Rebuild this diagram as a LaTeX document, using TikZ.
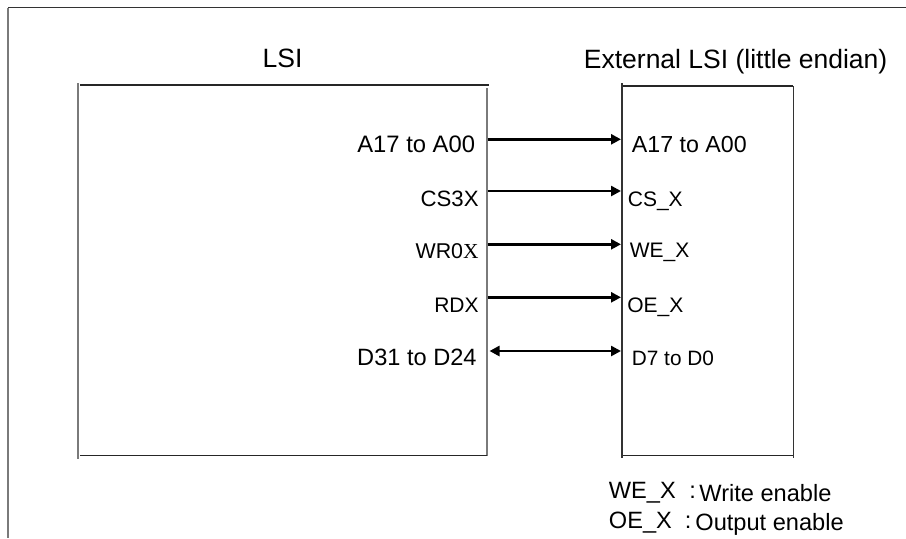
\documentclass[tikz,border=0pt]{standalone}
\usepackage{fontspec}
\setmainfont{Liberation Sans}
\newfontfamily\serifX{Liberation Serif}
\usetikzlibrary{arrows.meta,calc}
\definecolor{vgray}{HTML}{7A7A7A}
\tikzset{
  hline/.style={line width=0.55pt, draw=black!85},
  vline/.style={line width=0.8pt, draw=vgray},
  frametop/.style={line width=0.6pt, draw=black!80},
  sig/.style={line width=1.4pt, -{Triangle[length=5pt,width=5pt]}},
  bisig/.style={line width=1.4pt, {Triangle[length=5pt,width=5pt]}-{Triangle[length=5pt,width=5pt]}},
  boxnode/.style={rectangle, inner sep=0pt, anchor=north west, minimum height=185pt},
  lbl/.style={inner sep=0pt, text=black},
}
\newcommand{\fs}[1]{\fontsize{#1}{#1}\selectfont}
\begin{document}
\begin{tikzpicture}[x=0.5pt,y=-0.5pt]
\useasboundingbox (0,0) rectangle (906,538);
% outer frame
\coordinate (ftl) at (8,7.5);
\coordinate (ftr) at (906,7.5);
\coordinate (fbl) at (8,538);
\draw[frametop] (ftl) -- (ftr);
\draw[vline] (ftl) -- (fbl);
% titles
\node[lbl, anchor=base] (tlsi) at (282.5,67.3) {\fs{13.25}LSI};
\node[lbl, anchor=base west] (text) at (583.5,68.3) {\fs{13.25}External LSI (little endian)};
% boxes
\node[boxnode, minimum width=204pt] (lsi) at (78,85) {};
\node[boxnode, minimum width=85.15pt] (ext) at (622,85) {};
\draw[hline] ($(lsi.north west)+(2,0)$) -- ($(lsi.north east)+(2,0)$);
\draw[vline] ($(lsi.north west)+(0,-2)$) -- ($(lsi.south west)+(0,3)$);
\draw[vline] ($(lsi.north east)+(0,3)$) -- (lsi.south east);
\draw[hline] ($(lsi.south west)+(2,0)$) -- (lsi.south east);
\draw[hline] ($(ext.north west)+(1,1)$) -- ($(ext.north east)+(0,1)$);
\draw[line width=0.6pt, draw=black!80] ($(ext.north west)+(0,-2)$) -- ($(ext.south west)+(0,2)$);
\draw[line width=0.6pt, draw=black!80] ($(ext.north east)+(0,1)$) -- ($(ext.south east)+(0,2)$);
\draw[hline] ($(ext.south west)+(1,0)$) -- (ext.south east);
% signal levels
\coordinate (ya) at (487.5,139.3);
\coordinate (yb) at (487.5,191);
\coordinate (yc) at (487.5,244.3);
\coordinate (yd) at (487.5,297.3);
\coordinate (ye) at (487.5,351);
% left labels
\node[lbl, anchor=base east] (la) at (475.5,152.7) {\fs{11.9}A17 to A00};
\node[lbl, anchor=base east] (lb) at (479,206.7) {\fs{11.1}CS3X};
\node[lbl, anchor=base east] (lc) at (479,258) {\fs{10.7}WR0{\serifX X}};
\node[lbl, anchor=base east] (ld) at (479,312.7) {\fs{10.5}RDX};
\node[lbl, anchor=base east] (le) at (477,365) {\fs{11.8}D31 to D24};
% right labels
\node[lbl, anchor=base west] (ra) at (631.5,152.3) {\fs{11.6}A17 to A00};
\node[lbl, anchor=base west] (rb) at (627.5,206) {\fs{10.5}CS\_X};
\node[lbl, anchor=base west] (rc) at (629.5,257.3) {\fs{10.5}WE\_X};
\node[lbl, anchor=base west] (rd) at (627,312.7) {\fs{10.5}OE\_X};
\node[lbl, anchor=base west] (re) at (631.5,365) {\fs{10.4}D7 to D0};
% connectors
\draw[sig] (ya) -- ($(ext.west |- ya)+(-1,0)$);
\draw[sig] (yb) -- ($(ext.west |- yb)+(-1,0)$);
\draw[sig] (yc) -- ($(ext.west |- yc)+(-1,0)$);
\draw[sig] (yd) -- ($(ext.west |- yd)+(-1,0)$);
\draw[bisig] ($(ye)+(2,0)$) -- ($(ext.west |- ye)+(-1,0)$);
% legend
\node[lbl, anchor=base west] (gwe) at (608.5,498.3) {\fs{11.8}WE\_X};
\node[lbl, anchor=base west] (gc1) at (689,498) {\fs{11.8}:};
\node[lbl, anchor=base west] (gwd) at (699,501) {\fs{11.8}Write enable};
\node[lbl, anchor=base west] (goe) at (608.5,528.3) {\fs{11.8}OE\_X};
\node[lbl, anchor=base west] (gc2) at (684.5,528) {\fs{11.8}:};
\node[lbl, anchor=base west] (god) at (695,530) {\fs{11.8}Output enable};
\end{tikzpicture}
\end{document}
